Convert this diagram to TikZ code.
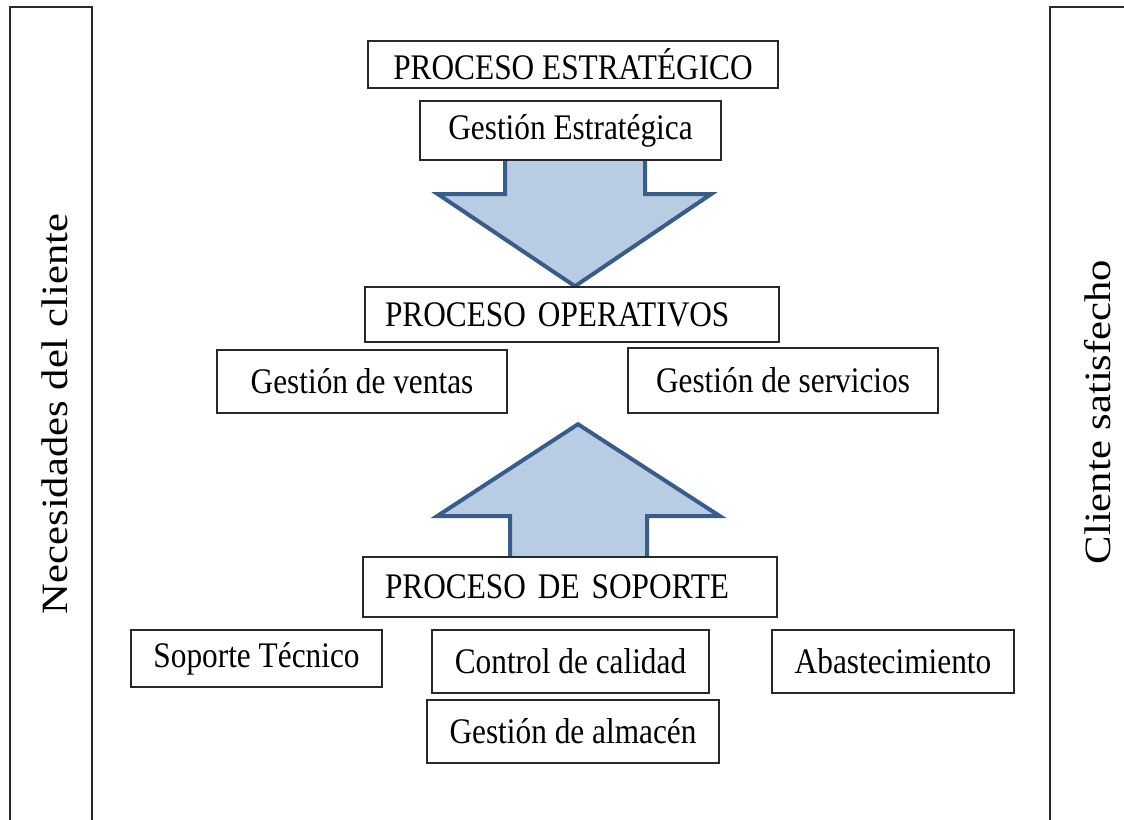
\documentclass[tikz,border=0pt]{standalone}
\usepackage{fontspec}
\setmainfont{Liberation Serif}[FakeStretch=0.87]
\newfontfamily\sidefont{Liberation Serif}
\usepackage{tikz}
\usetikzlibrary{calc,backgrounds}

\tikzset{
  procbox/.style={draw={rgb, 255:red, 40; green, 40; blue, 40}, line width=1.2pt, fill=white, inner sep=0pt, font=\fontsize{27}{32}\selectfont},
  blockarrow/.style={draw={rgb, 255:red, 56; green, 93; blue, 138}, line width=3pt, fill={rgb, 255:red, 184; green, 204; blue, 228}, line join=miter},
  sidebar/.style={draw={rgb, 255:red, 40; green, 40; blue, 40}, line width=1.5pt},
  sidetext/.style={rotate=90, inner sep=0pt, font=\sidefont\fontsize{32}{38}\selectfont}
}

\begin{document}
\begin{tikzpicture}[x=0.75pt,y=0.75pt,yscale=-1,xscale=1]
\useasboundingbox (0,0) rectangle (1124,819);

%Shape: side bars
\draw [sidebar] (10,830) -- (10,7) -- (92,7) -- (92,830) ;
\draw [sidebar] (1050,830) -- (1050,7) -- (1135,7) ;

% Text Node
\node [sidetext] (cliente) at (55,414) {\scalebox{1}[0.87]{Necesidades del cliente}};
% Text Node
\node [sidetext] (satisf) at (1098,412) {\scalebox{1}[0.87]{Cliente satisfecho}};

%Shape: Rectangle strategic
\node [procbox, minimum width=307.5pt, minimum height=35.25pt] (pe) at (573,64.5) {PROCESO ESTRATÉGICO};
\node [procbox, minimum width=225.75pt, minimum height=44.25pt] (ge) at (570.5,130.5) {Gestión Estratégica};

%Shape: Rectangle operative
\node [procbox, minimum width=310.5pt, minimum height=41.25pt, inner xsep=15pt, text width=280.5pt, align=left] (po) at (572,314.5) {PROCESO OPERATIVOS};
\node [procbox, minimum width=217.5pt, minimum height=47.25pt] (gv) at (362,381.5) {Gestión de ventas};
\node [procbox, minimum width=232.5pt, minimum height=48.75pt] (gs) at (783,380.5) {Gestión de servicios};

%Shape: Rectangle support
\node [procbox, minimum width=310.5pt, minimum height=45pt, inner xsep=16.5pt, text width=277.5pt, align=left] (ps) at (570,587) {PROCESO DE SOPORTE};
\node [procbox, minimum width=188.25pt, minimum height=42.75pt] (st) at (256.5,658.5) {Soporte Técnico};
\node [procbox, minimum width=207.75pt, minimum height=47.25pt] (cc) at (570.5,661.5) {Control de calidad};
\node [procbox, minimum width=181.5pt, minimum height=47.25pt] (ab) at (893,661.5) {Abastecimiento};
\node [procbox, minimum width=219pt, minimum height=47.25pt] (ga) at (573,731.5) {Gestión de almacén};

%Shape: Block arrows (behind the boxes)
\coordinate (dtip) at ($(po.north)+(3,0)$);
\coordinate (dtop) at (dtip |- ge.center);
\coordinate (utip) at ($(ps.north)+(8,-132)$);
\coordinate (ubot) at (utip |- ps.center);
\begin{pgfonlayer}{background}
\draw [blockarrow] ($(dtop)+(-70,0)$) -- ($(dtip)+(-70,-92)$) -- ($(dtip)+(-137,-92)$) -- (dtip) -- ($(dtip)+(136,-92)$) -- ($(dtip)+(70,-92)$) -- ($(dtop)+(70,0)$) -- cycle ;
\draw [blockarrow] ($(ubot)+(-68,0)$) -- ($(utip)+(-68,92)$) -- ($(utip)+(-141,92)$) -- (utip) -- ($(utip)+(142,92)$) -- ($(utip)+(69,92)$) -- ($(ubot)+(69,0)$) -- cycle ;
\end{pgfonlayer}
\end{tikzpicture}
\end{document}
